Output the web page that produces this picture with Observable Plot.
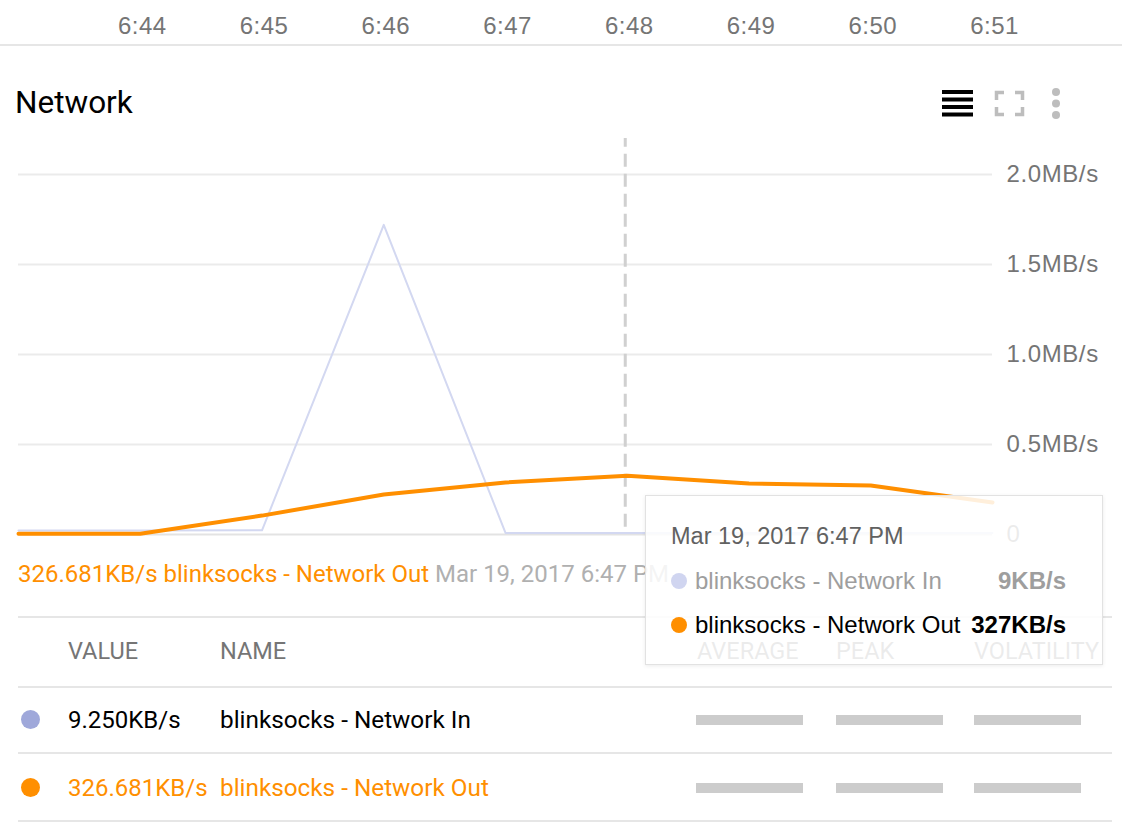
<!DOCTYPE html>
<html><head><meta charset="utf-8">
<script src="https://cdn.jsdelivr.net/npm/d3@7"></script>
<script src="https://cdn.jsdelivr.net/npm/@observablehq/plot@0.6"></script>
<style>
body{margin:0;background:#fff;}
#root{position:relative;width:1122px;height:840px;overflow:hidden;font-family:Roboto,sans-serif;}
.abs{position:absolute;white-space:nowrap;}
#chart{position:absolute;left:0;top:0;}
#chart g[aria-label="y-axis tick label"] text{letter-spacing:0.6px;}
#chart g[aria-label="x-axis tick label"] text{letter-spacing:0.4px;}
.hr{position:absolute;height:0;border-top:2px solid #e6e6e6;}
.bar{position:absolute;height:10px;width:107px;background:#cccccc;}
.dot{position:absolute;border-radius:50%;}
#tip{position:absolute;left:645px;top:495px;width:456px;height:168px;background:rgba(255,255,255,0.86);border:1px solid #e2e2e2;box-shadow:0 1px 4px rgba(0,0,0,0.08);}
</style></head><body><div id="root"></div><script>
// ---- data ----
const timeLabels = ["6:43","6:44","6:45","6:46","6:47","6:48","6:49","6:50","6:51"];
const netIn  = [0.022, 0.022, 0.023, 1.72, 0.009, 0.009, 0.009, 0.009, 0.009]; // MB/s
const netOut = [0.004, 0.004, 0.105, 0.222, 0.289, 0.327, 0.283, 0.272, 0.178]; // MB/s
const axisTickLabels = ["6:44","6:45","6:46","6:47","6:48","6:49","6:50","6:51"];
const yTicks = [0, 0.5, 1, 1.5, 2];
const yTickLabels = ["0","0.5MB/s","1.0MB/s","1.5MB/s","2.0MB/s"];
const seriesNames = ["blinksocks - Network In","blinksocks - Network Out"];
const lineColors = ["#d3d8f1","#ff8f00"];
const legendColors = ["#9fa8da","#ff8f00"];
const currentValues = ["9.250KB/s","326.681KB/s"];
const tooltipValues = ["9KB/s","327KB/s"];
const tooltipTime = "Mar 19, 2017 6:47 PM";
const cursorTime = "6:48";
const tableHeaders = ["VALUE","NAME","AVERAGE","PEAK","VOLATILITY"];
const title = "Network";

// ---- build ----
const toDate = s => { const [h,m] = s.split(":").map(Number); return new Date(2017, 2, 19, h + 12, m); };
const inData = timeLabels.map((t,i)=>({time:toDate(t), value:netIn[i], series:seriesNames[0]}));
const outData = timeLabels.map((t,i)=>({time:toDate(t), value:netOut[i], series:seriesNames[1]}));
const axisTicks = axisTickLabels.map(toDate);

const chart = Plot.plot({
  width: 1122, height: 560,
  marginLeft: 18, marginRight: 130, marginTop: 174, marginBottom: 26,
  x: {type: "time", domain: [toDate(timeLabels[0]), toDate(timeLabels[timeLabels.length-1])], label: null},
  y: {domain: [0, 2], label: null},
  style: {fontFamily: "'Liberation Sans', Arial, sans-serif", background: "transparent", color: "#757575", overflow: "visible"},
  marks: [
    Plot.gridY(yTicks.slice(1), {stroke: "#ebebeb", strokeOpacity: 1, strokeWidth: 2}),
    Plot.ruleY([0], {stroke: "#e3e3e3", strokeWidth: 2}),
    Plot.ruleX([toDate(cursorTime)], {y1: 0.04, y2: 2.2, dx: -2, stroke: "#d0d0d0", strokeWidth: 3, strokeDasharray: "13,7"}),
    Plot.line(inData, {x: "time", y: "value", stroke: lineColors[0], strokeWidth: 2}),
    Plot.line(outData, {x: "time", y: "value", stroke: lineColors[1], strokeWidth: 4}),
    Plot.axisY(yTicks, {anchor: "right", tickSize: 0, tickPadding: 14, fontSize: 24, label: null,
      tickFormat: d => yTickLabels[yTicks.indexOf(d)]}),
    Plot.axisX(axisTicks, {anchor: "top", tickSize: 0, tickPadding: 141, fontSize: 24, label: null, dx: 2,
      tickFormat: d => axisTickLabels[axisTicks.findIndex(t => +t === +d)]})
  ]
});
chart.id = "chart";
const root = document.getElementById("root");
root.appendChild(chart);

function txt(s, x, yc, size, color, opts={}) {
  const d = document.createElement("div");
  d.className = "abs";
  d.textContent = s;
  d.style.left = x + "px";
  d.style.top = (yc - size/2) + "px";
  d.style.fontSize = size + "px";
  d.style.lineHeight = size + "px";
  d.style.color = color;
  if (opts.weight) d.style.fontWeight = opts.weight;
  if (opts.family) d.style.fontFamily = opts.family;
  if (opts.right !== undefined) { d.style.left = "auto"; d.style.right = opts.right + "px"; }
  (opts.parent || root).appendChild(d);
  return d;
}
function hr(x1, x2, y) { const d = document.createElement("div"); d.className="hr"; d.style.left=x1+"px"; d.style.width=(x2-x1)+"px"; d.style.top=(y-1)+"px"; root.appendChild(d); }
function dot(cx, cy, r, color, parent) { const d = document.createElement("div"); d.className="dot"; d.style.left=(cx-r)+"px"; d.style.top=(cy-r)+"px"; d.style.width=d.style.height=(2*r)+"px"; d.style.background=color; (parent||root).appendChild(d); }
function bar(x, yc) { const d = document.createElement("div"); d.className="bar"; d.style.left=x+"px"; d.style.top=(yc-5)+"px"; root.appendChild(d); }

// top rule under time axis
hr(0, 1122, 45);
// title
txt(title, 15, 103, 31.5, "#000");
// icons
const icons = document.createElement("div");
icons.className = "abs"; icons.style.left = "930px"; icons.style.top = "80px";
icons.innerHTML = `<svg width="150" height="50">
 <g fill="#000"><rect x="12" y="10" width="31" height="4"/><rect x="12" y="17.5" width="31" height="4"/><rect x="12" y="25" width="31" height="4"/><rect x="12" y="32.5" width="31" height="4"/></g>
 <g fill="none" stroke="#bdbdbd" stroke-width="3.5">
  <path d="M66.5 20 V12.5 H74"/><path d="M85 12.5 H92.5 V20"/><path d="M66.5 27 V34.5 H74"/><path d="M85 34.5 H92.5 V27"/>
 </g>
 <g fill="#bdbdbd"><circle cx="126" cy="12" r="4"/><circle cx="126" cy="23.5" r="4"/><circle cx="126" cy="35" r="4"/></g>
</svg>`;
root.appendChild(icons);

// legend line under chart
const lg = txt("", 18, 574, 24, legendColors[1]);
lg.innerHTML = `<span style="color:${legendColors[1]}">${currentValues[1]} ${seriesNames[1]}</span> <span style="color:#b0b0b0">${tooltipTime}</span>`;

// table
hr(18, 1112, 617);
txt(tableHeaders[0], 68, 652, 23.5, "#757575");
txt(tableHeaders[1], 220, 652, 23.5, "#757575");
txt(tableHeaders[2], 697, 652, 23.5, "#757575");
txt(tableHeaders[3], 836, 652, 23.5, "#757575");
txt(tableHeaders[4], 974, 652, 23.5, "#757575");
hr(18, 1112, 687);
const rowY = [720, 788];
[0,1].forEach(i => {
  const c = i === 0 ? "#000" : legendColors[1];
  dot(30, rowY[i] - 1, 9.5, legendColors[i]);
  txt(currentValues[i], 68, rowY[i], 24, c);
  txt(seriesNames[i], 220, rowY[i], 24.3, c);
  bar(696, rowY[i]); bar(836, rowY[i]); bar(974, rowY[i]);
});
hr(18, 1112, 753);
hr(18, 1112, 821);

// tooltip
const tip = document.createElement("div"); tip.id = "tip"; root.appendChild(tip);
const tf = "'Liberation Sans', Arial, sans-serif";
txt(tooltipTime, 25, 41, 23.5, "#616161", {family: tf, parent: tip});
dot(33, 85, 8, "#d0d5f0", tip);
txt(seriesNames[0], 49, 85, 24, "#9e9e9e", {family: tf, parent: tip});
txt(tooltipValues[0], 0, 85, 24, "#9e9e9e", {family: tf, parent: tip, weight: "bold", right: 36});
dot(33, 129, 8, "#ff8f00", tip);
txt(seriesNames[1], 49, 129, 24, "#000", {family: tf, parent: tip});
txt(tooltipValues[1], 0, 129, 24, "#000", {family: tf, parent: tip, weight: "bold", right: 36});
</script></body></html>
